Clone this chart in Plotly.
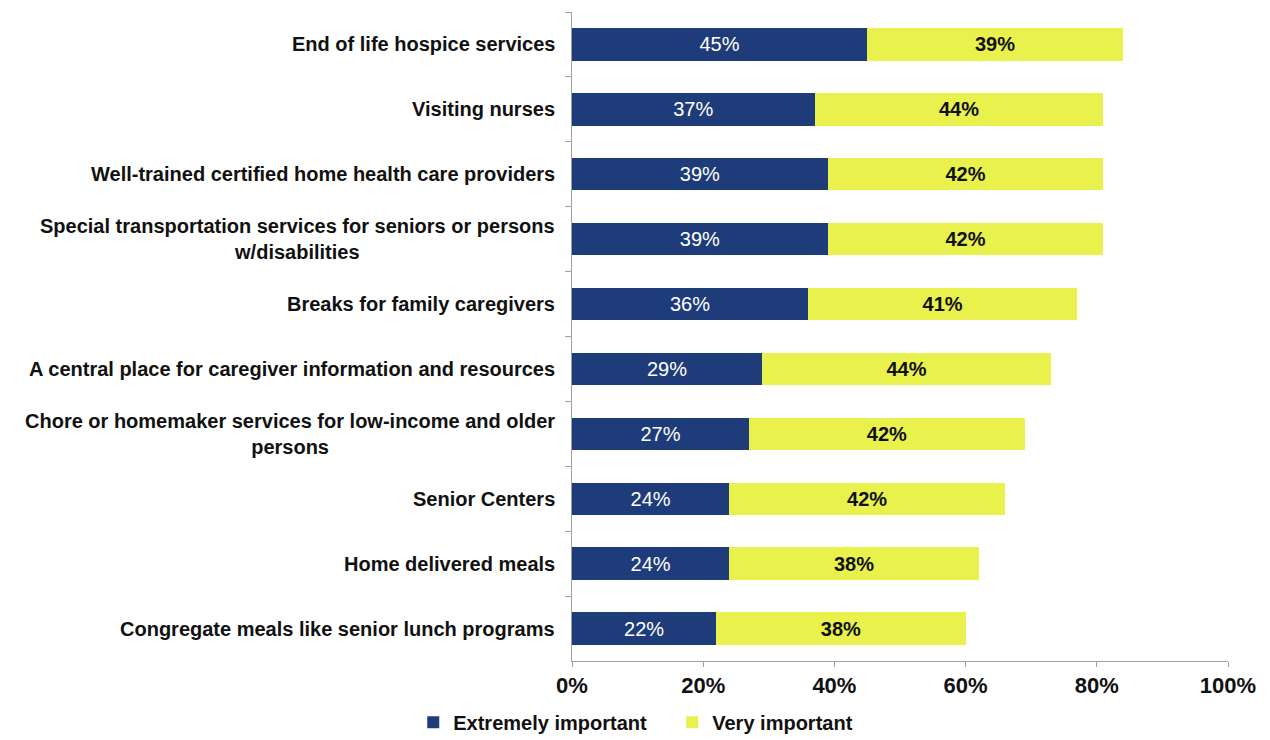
import plotly.graph_objects as go

services = [
    "End of life hospice services",
    "Visiting nurses",
    "Well-trained certified home health care providers",
    "Special transportation services for seniors or persons<br>w/disabilities",
    "Breaks for family caregivers",
    "A central place for caregiver information and resources",
    "Chore or homemaker services for low-income and older<br>persons",
    "Senior Centers",
    "Home delivered meals",
    "Congregate meals like senior lunch programs",
]
extremely_important = [45, 37, 39, 39, 36, 29, 27, 24, 24, 22]
very_important = [39, 44, 42, 42, 41, 44, 42, 42, 38, 38]
x_ticks = [0, 20, 40, 60, 80, 100]
x_tick_labels = ["0%", "20%", "40%", "60%", "80%", "100%"]

NAVY = "#1f3c7a"
YELLOW = "#e9f14c"
FONT = "Liberation Sans, Arial, sans-serif"

fig = go.Figure()
fig.add_trace(go.Bar(
    y=services, x=extremely_important, orientation="h",
    name="<b>Extremely important</b>",
    marker=dict(color=NAVY, line=dict(width=0)),
    texttemplate="%{x}%", textposition="inside", insidetextanchor="middle",
    textfont=dict(color="white", size=20, family=FONT),
    width=0.5,
))
fig.add_trace(go.Bar(
    y=services, x=very_important, orientation="h",
    name="<b>Very important</b>",
    marker=dict(color=YELLOW, line=dict(width=0)),
    texttemplate="<b>%{x}%</b>", textposition="inside", insidetextanchor="middle",
    textfont=dict(color="#111111", size=20, family=FONT),
    width=0.5,
))

# Category labels drawn as right-anchored, centre-aligned text beside the axis
for s in services:
    fig.add_annotation(
        x=0, xref="paper", y=s, yref="y", text="<b>" + s + "</b>",
        xanchor="right", yanchor="middle", align="center", showarrow=False,
        xshift=-15, font=dict(size=20, color="#111111", family=FONT),
    )

fig.update_layout(
    barmode="stack",
    width=1270, height=740,
    margin=dict(l=572, r=42, t=12, b=79, autoexpand=False),
    paper_bgcolor="white", plot_bgcolor="white",
    font=dict(family=FONT, color="#111111"),
    showlegend=True,
    legend=dict(
        orientation="h", traceorder="normal",
        x=-0.242, xanchor="left", y=0.024, yanchor="middle", yref="container",
        font=dict(size=20, family=FONT, color="#111111"),
        entrywidth=214, entrywidthmode="pixels",
    ),
    bargap=0.5,
)
fig.update_xaxes(
    range=[0, 100], tickvals=x_ticks, ticktext=["<b>%s</b>" % t for t in x_tick_labels],
    tickfont=dict(size=22, family=FONT, color="#111111"),
    showgrid=False, zeroline=False,
    showline=True, linecolor="#a0a0a0", linewidth=1,
    ticks="outside", ticklen=5, tickcolor="#a0a0a0",
)
fig.update_yaxes(
    categoryorder="array", categoryarray=services, autorange="reversed",
    showticklabels=False, showgrid=False, zeroline=False,
    showline=True, linecolor="#a0a0a0", linewidth=1,
    ticks="outside", ticklen=6, tickcolor="#a0a0a0", tickson="boundaries",
)

fig.write_html("out.html")
